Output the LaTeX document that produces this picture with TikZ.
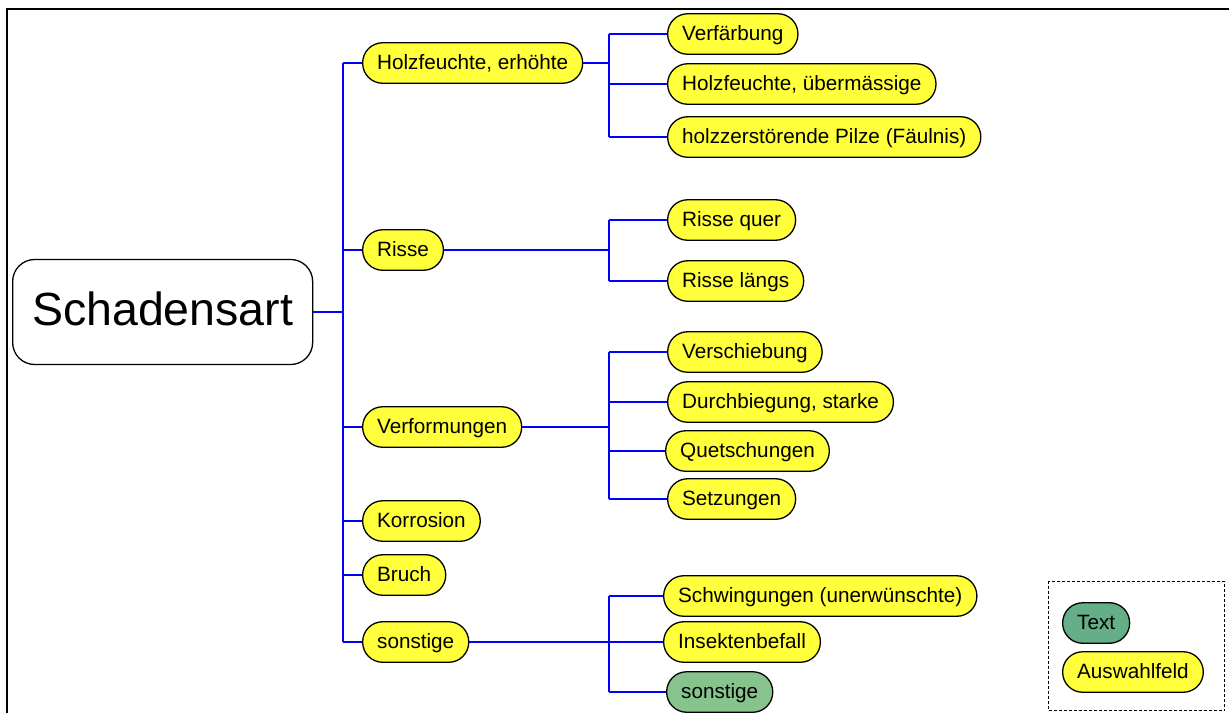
\documentclass[tikz,border=0pt]{standalone}
\usepackage{fontspec}
\setmainfont{Liberation Sans}
\usetikzlibrary{calc}
\definecolor{pillyellow}{RGB}{255,255,60}
\definecolor{pillgreen}{RGB}{135,195,140}
\definecolor{legendgreen}{RGB}{100,175,135}
\definecolor{connblue}{RGB}{0,0,255}
\tikzset{
  pill/.style={draw=black, line width=1.3pt, fill=pillyellow, rounded corners=20pt,
    minimum height=40.5pt, inner xsep=14.5pt, inner ysep=0pt, anchor=west,
    font=\fontsize{20.7}{24}\selectfont, text height=17pt, text depth=4pt},
  greenpill/.style={pill, fill=pillgreen},
  legendpill/.style={pill, fill=legendgreen},
  rootbox/.style={draw=black, line width=1.3pt, fill=white, rounded corners=22pt,
    minimum width=300pt, minimum height=105pt, inner sep=0pt, anchor=west,
    font=\fontsize{46.5}{52}\selectfont, text height=34pt, text depth=8pt},
  conn/.style={draw=connblue, line width=1.1pt},
  thickconn/.style={draw=connblue, line width=2pt},
  frameline/.style={draw=black, line width=2.8pt},
  legendframe/.style={draw=black, line width=1.4pt, dash pattern=on 3pt off 2pt}
}
\begin{document}
\begin{tikzpicture}[x=1pt, y=-1pt]
\useasboundingbox (0,0) rectangle (1229,713);
% outer frame
\coordinate (FL) at (7,713);
\coordinate (FC) at (7,9);
\coordinate (FR) at (1229,9);
\draw[frameline] (FL) -- (FC) -- (FR);

% trunk and branch x-positions
\coordinate (T) at (343,0);
\coordinate (B) at (609,0);

% root
\node[rootbox] (root) at (12,312) {Schadensart};

% level 1
\node[pill] (hf) at (362,63) {Holzfeuchte, erhöhte};
\node[pill] (ri) at (362,250) {Risse};
\node[pill] (vf) at (362,427) {Verformungen};
\node[pill] (ko) at (362,521) {Korrosion};
\node[pill] (br) at (362,575) {Bruch};
\node[pill] (so) at (362,642) {sonstige};

% level 2
\node[pill] (hf1) at (667,34) {Verfärbung};
\node[pill] (hf2) at (667,84) {Holzfeuchte, übermässige};
\node[pill] (hf3) at (667,137) {holzzerstörende Pilze (Fäulnis)};

\node[pill] (ri1) at (667,220) {Risse quer};
\node[pill] (ri2) at (667,281) {Risse längs};

\node[pill] (vf1) at (667,352) {Verschiebung};
\node[pill] (vf2) at (667,402) {Durchbiegung, starke};
\node[pill] (vf3) at (665,451) {Quetschungen};
\node[pill] (vf4) at (667,499) {Setzungen};

\node[pill] (so1) at (663,596) {Schwingungen (unerwünschte)};
\node[pill] (so2) at (663,642) {Insektenbefall};
\node[greenpill] (so3) at (666,692) {sonstige};

% connectors root -> level 1
\draw[conn] (root.east) -- (root.east -| T);
\draw[thickconn] (hf.west -| T) -- (so.west -| T);
\foreach \n in {hf,ri,vf,ko,br,so}
  \draw[conn] (\n.west -| T) -- (\n.west);

% level 1 -> level 2
\draw[thickconn] (hf.east) -- (hf.east -| B);
\draw[conn] (hf1.west -| B) -- (hf3.west -| B);
\foreach \n in {hf1,hf2,hf3} \draw[conn] (\n.west -| B) -- (\n.west);

\draw[conn] (ri.east) -- (ri.east -| B);
\draw[conn] (ri1.west -| B) -- (ri2.west -| B);
\foreach \n in {ri1,ri2} \draw[conn] (\n.west -| B) -- (\n.west);

\draw[conn] (vf.east) -- (vf.east -| B);
\draw[conn] (vf1.west -| B) -- (vf4.west -| B);
\foreach \n in {vf1,vf2,vf3,vf4} \draw[conn] (\n.west -| B) -- (\n.west);

\draw[thickconn] (so.east) -- (so.east -| B);
\draw[conn] (so1.west -| B) -- (so3.west -| B);
\foreach \n in {so1,so2,so3} \draw[conn] (\n.west -| B) -- (\n.west);

% legend
\node[legendframe, minimum width=176pt, minimum height=129pt, anchor=north west, inner sep=0pt] (legend) at (1048,581) {};
\node[legendpill] (lt) at (1062,623) {Text};
\node[pill] (la) at (1062,672) {Auswahlfeld};
\end{tikzpicture}
\end{document}
